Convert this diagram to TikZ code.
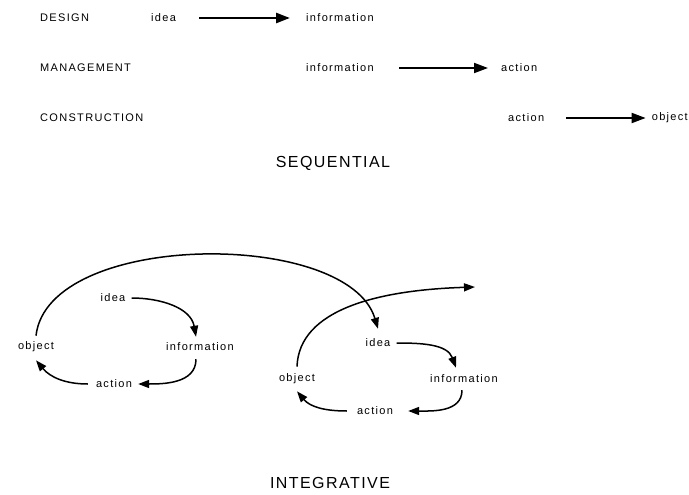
\documentclass[tikz,border=0pt]{standalone}
\usepackage{fontspec}
\setmainfont{Liberation Sans}[LetterSpace=12]
\newfontfamily\ttlfont{Liberation Sans}[LetterSpace=9]
\usetikzlibrary{arrows.meta}
\begin{document}
\begin{tikzpicture}[x=1pt,y=-1pt,
  lbl/.style={font=\fontsize{11}{13}\selectfont, inner sep=0pt},
  ttl/.style={font=\ttlfont\fontsize{16}{18}\selectfont, inner sep=0pt},
  sarr/.style={line width=1.9pt, -{Triangle[length=14pt,width=10pt]}},
  carr/.style={line width=1.5pt, -{Triangle[length=11pt,width=8pt]}}]
\useasboundingbox (0,0) rectangle (689,495);
% sequential
\node[lbl,anchor=west] (dsg) at (40,18) {DESIGN};
\node[lbl,anchor=west] (s1a) at (151,18) {idea};
\node[lbl,anchor=west] (s1b) at (306,18) {information};
\node[lbl,anchor=west] (mgt) at (40,68) {MANAGEMENT};
\node[lbl,anchor=west] (s2a) at (306,68) {information};
\node[lbl,anchor=west] (s2b) at (501,68) {action};
\node[lbl,anchor=west] (cst) at (40,118) {CONSTRUCTION};
\node[lbl,anchor=west] (s3a) at (508,118) {action};
\node[lbl,anchor=east] (s3b) at (688,118) {object};
\draw[sarr,line width=2.7pt] ([xshift=23pt]s1a.east) -- ([xshift=-16pt]s1b.west);
\draw[sarr] ([xshift=25pt]s2a.east) -- ([xshift=-13pt]s2b.west);
\draw[sarr] ([xshift=22pt]s3a.east) -- ([xshift=-6pt]s3b.west);
\node[ttl] (seq) at (333,163) {SEQUENTIAL};
% integrative, left cycle
\node[lbl] (li) at (113,298) {idea};
\node[lbl] (lin) at (200,347) {information};
\node[lbl] (lo) at (36,347) {object};
\node[lbl] (la) at (114,384) {action};
% right cycle
\node[lbl] (ri) at (378,343) {idea};
\node[lbl] (rin) at (464,379) {information};
\node[lbl] (ro) at (297,379) {object};
\node[lbl] (ra) at (375,411) {action};
\coordinate (rend) at (475,287);
% left arrows
\draw[carr] ([xshift=6pt]li.east) to[out=0,in=100] ([xshift=-4pt,yshift=6pt]lin.north);
\draw[carr] ([xshift=-4pt,yshift=-8pt]lin.south) to[out=-90,in=0] ([xshift=6pt]la.east);
\draw[carr] ([xshift=-8pt]la.west) to[out=180,in=-50] ([yshift=-8pt]lo.south);
\draw[carr] ([yshift=6pt]lo.north) .. controls +(12,-105) and +(-30,-100) .. ([yshift=10pt]ri.north);
% right arrows
\draw[carr] ([xshift=6pt]ri.east) to[out=0,in=110] ([xshift=-8pt,yshift=7pt]rin.north);
\draw[carr] ([xshift=-2pt,yshift=-7pt]rin.south) to[out=-90,in=0] ([xshift=15pt]ra.east);
\draw[carr] ([xshift=-10pt]ra.west) to[out=180,in=-50] ([yshift=-7pt]ro.south);
\draw[carr] ([yshift=7pt]ro.north) .. controls +(2,-58) and (380,290) .. (rend);
\node[ttl] (int) at (330,483) {INTEGRATIVE};
\end{tikzpicture}
\end{document}
